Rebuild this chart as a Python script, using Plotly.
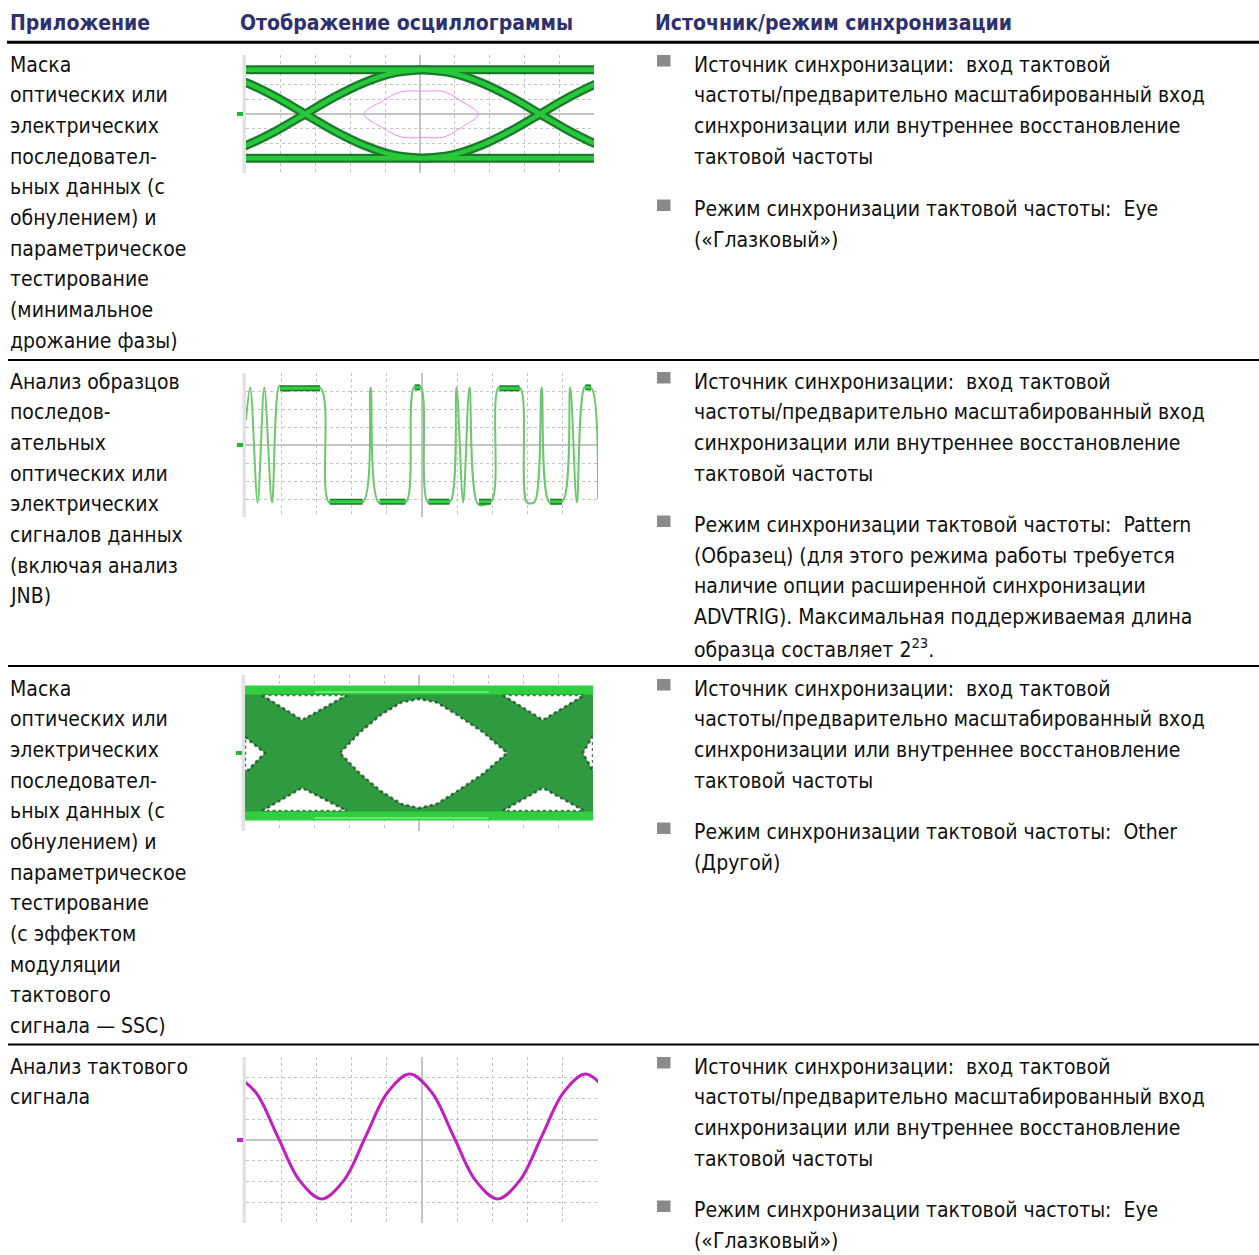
import plotly.graph_objects as go

W, H = 1259, 1255
FONT = "Liberation Sans Narrow, Arial Narrow, DejaVu Sans Condensed, sans-serif"
HEAD_COLOR = "#2e3070"

# ---------------- text data ----------------
headers = ["Приложение", "Отображение осциллограммы", "Источник/режим синхронизации"]

col1_rows = [
    ["Маска", "оптических или", "электрических", "последовател-", "ьных данных (с",
     "обнулением) и", "параметрическое", "тестирование", "(минимальное", "дрожание фазы)"],
    ["Анализ образцов", "последов-", "ательных", "оптических или", "электрических",
     "сигналов данных", "(включая анализ", "JNB)"],
    ["Маска", "оптических или", "электрических", "последовател-", "ьных данных (с",
     "обнулением) и", "параметрическое", "тестирование", "(с эффектом", "модуляции",
     "тактового", "сигнала — SSC)"],
    ["Анализ тактового", "сигнала"],
]

src_bullet = ["Источник синхронизации:\u00a0 вход тактовой",
              "частоты/предварительно масштабированный вход",
              "синхронизации или внутреннее восстановление",
              "тактовой частоты"]
col3_rows = [
    [src_bullet, ["Режим синхронизации тактовой частоты:\u00a0 Eye", "(«Глазковый»)"]],
    [src_bullet, ["Режим синхронизации тактовой частоты:\u00a0 Pattern",
                  "(Образец) (для этого режима работы требуется",
                  "наличие опции расширенной синхронизации",
                  "ADVTRIG). Максимальная поддерживаемая длина",
                  "образца составляет 2<sup>23</sup>."]],
    [src_bullet, ["Режим синхронизации тактовой частоты:\u00a0 Other", "(Другой)"]],
    [src_bullet, ["Режим синхронизации тактовой частоты:\u00a0 Eye", "(«Глазковый»)"]],
]

# ---------------- waveform data (divisions) ----------------
# Eye 1: rails and one transition shape relative to crossing
eye1_rail = 3.0
eye1_cross = [1.70, 8.45]
eye1_t = [-3.37, -2.53, -1.69, -0.84, 0.0, 0.84, 1.69, 2.53, 3.37]
eye1_y = [-3.0, -2.78, -2.12, -1.15, 0.0, 1.15, 2.12, 2.78, 3.0]
mask_x = [3.39, 3.9, 4.45, 5.1, 5.7, 6.2, 6.67, 6.2, 5.7, 5.1, 4.45, 3.9, 3.39]
mask_y = [0.0, 0.85, 1.5, 1.55, 1.5, 0.85, 0.0, -0.9, -1.55, -1.6, -1.55, -0.9, 0.0]

# Pattern waveform
pat_t = [0.00, 0.12, 0.33, 0.52, 0.74, 0.95, 1.10, 1.50, 2.12, 2.36, 2.80, 3.33, 3.54, 3.77,
         4.20, 4.55, 4.77, 4.97, 5.17, 5.50, 5.80, 5.98, 6.17, 6.35, 6.60, 6.98, 7.18, 7.50,
         7.79, 7.98, 8.20, 8.40, 8.62, 9.00, 9.21, 9.40, 9.63, 9.82, 10.0]
pat_v = [1.4, 3.2, -3.2, 3.2, -3.2, 3.3, 3.0, 3.15, 3.15, -3.2, -3.1, -3.15, 3.2, -3.2,
         -3.1, -3.15, 3.2, 3.2, -3.2, -3.1, -3.15, 3.2, -3.2, 3.2, -3.3, -3.1, 3.2, 3.1,
         3.15, -3.2, -3.15, 3.2, -3.2, -3.1, 3.2, -3.2, 3.25, 3.15, -3.0]
plat_x0 = [0.97, 2.38, 3.80, 4.79, 5.19, 6.62, 7.20, 8.64, 9.64]
plat_x1 = [2.10, 3.31, 4.53, 4.95, 5.78, 6.96, 7.77, 8.98, 9.80]
plat_v = [3.15, -3.15, -3.15, 3.2, -3.15, -3.15, 3.15, -3.15, 3.2]

# Eye 3 (dense eye): rails and white openings
eye3_rail = 3.23
holes = [
    ([2.73, 3.3, 3.9, 4.5, 5.0, 5.5, 6.1, 6.85, 7.53, 6.85, 6.1, 5.5, 5.0, 4.5, 3.9, 3.3, 2.73],
     [0.0, 1.05, 1.95, 2.6, 2.77, 2.6, 1.95, 1.05, 0.0, -1.05, -1.95, -2.62, -2.82, -2.62, -1.95, -1.05, 0.0]),
    ([0.49, 1.64, 2.93, 0.49], [2.97, 1.69, 2.97, 2.97]),
    ([0.49, 1.64, 2.93, 0.49], [-2.97, -1.79, -2.97, -2.97]),
    ([7.41, 8.56, 9.75, 7.41], [2.97, 1.69, 2.97, 2.97]),
    ([7.41, 8.56, 9.75, 7.41], [-2.97, -1.79, -2.97, -2.97]),
    ([0.0, 0.57, 0.0, 0.0], [0.82, 0.0, -1.03, 0.82]),
    ([10.0, 9.71, 10.0, 10.0], [0.9, 0.0, -0.9, 0.9]),
]

# Clock sine (points read every 1/8 period)
sin_t = [-0.35, 0.275, 0.90, 1.525, 2.15, 2.775, 3.40, 4.025, 4.65, 5.275, 5.90, 6.525,
         7.15, 7.775, 8.40, 9.025, 9.65, 10.275]
sin_v = [3.18, 2.30, 0.17, -1.96, -2.84, -1.96, 0.17, 2.30, 3.18, 2.30, 0.17, -1.96,
         -2.84, -1.96, 0.17, 2.30, 3.18, 2.30]

# ---------------- helpers ----------------
def px(x):
    return x / W


def py(y):
    return 1 - y / H


fig = go.Figure()
annotations = []
shapes = []

# headers
for txt, x in zip(headers, [8, 238, 653]):
    annotations.append(dict(text="<b>" + txt + "</b>", x=px(x), y=py(23), xref="paper", yref="paper",
                            xanchor="left", yanchor="middle", showarrow=False,
                            font=dict(family=FONT, size=21, color=HEAD_COLOR)))

# rules
shapes.append(dict(type="line", xref="paper", yref="paper", x0=px(7), x1=1, y0=py(42.2), y1=py(42.2),
                   line=dict(color="black", width=3)))
for yy in [360, 666, 1044.5]:
    shapes.append(dict(type="line", xref="paper", yref="paper", x0=px(8), x1=1, y0=py(yy), y1=py(yy),
                       line=dict(color="black", width=2.2)))

LS = 30.67
row_top = [64.5, 381.5, 688.5, 1066.5]
bullet_start = [[64.5, 209], [381.5, 525], [688.5, 832], [1066.5, 1210]]

for lines, y0 in zip(col1_rows, row_top):
    for i, ln in enumerate(lines):
        annotations.append(dict(text=ln, x=px(8), y=py(y0 + i * LS), xref="paper", yref="paper",
                                xanchor="left", yanchor="middle", showarrow=False,
                                font=dict(family=FONT, size=21, color="#111111")))

for bullets, starts in zip(col3_rows, bullet_start):
    for blines, y0 in zip(bullets, starts):
        shapes.append(dict(type="rect", xref="paper", yref="paper", x0=px(657), x1=px(670.5),
                           y0=py(y0 - 9.5), y1=py(y0 + 2), line=dict(width=0), fillcolor="#8a8a8a"))
        for i, ln in enumerate(blines):
            annotations.append(dict(text=ln, x=px(692), y=py(y0 + i * LS), xref="paper", yref="paper",
                                    xanchor="left", yanchor="middle", showarrow=False,
                                    font=dict(family=FONT, size=21, color="#111111")))

# ---------------- scope panels ----------------
panels = [  # x0, x1, y0(top), y1(bottom), marker color
    (246, 594, 55, 173, "#22b830"),
    (246, 598, 373, 517, "#22b830"),
    (245, 593, 675, 831, "#22b830"),
    (246, 598, 1057, 1223, "#cc22cc"),
]

layout_axes = {}
for k, (x0, x1, y0, y1, mc) in enumerate(panels, start=1):
    xa = "xaxis" if k == 1 else f"xaxis{k}"
    ya = "yaxis" if k == 1 else f"yaxis{k}"
    layout_axes[xa] = dict(domain=[px(x0), px(x1)], range=[0, 10], dtick=1, tick0=0,
                           showgrid=True, gridcolor="#c4c4c4", griddash="dot", gridwidth=1,
                           zeroline=False, showticklabels=False, ticks="", showline=False,
                           anchor=f"y{k}" if k > 1 else "y", fixedrange=True)
    layout_axes[ya] = dict(domain=[py(y1), py(y0)], range=[-4, 4], dtick=1, tick0=0,
                           showgrid=True, gridcolor="#c4c4c4", griddash="dot", gridwidth=1,
                           zeroline=False, showticklabels=False, ticks="", showline=False,
                           anchor=f"x{k}" if k > 1 else "x", fixedrange=True)
    xr = "x" if k == 1 else f"x{k}"
    yr = "y" if k == 1 else f"y{k}"
    # center cross
    shapes.append(dict(type="line", xref=xr, yref=yr, x0=5, x1=5, y0=-4, y1=4,
                       line=dict(color="#8a8a8a", width=1), layer="below"))
    shapes.append(dict(type="line", xref=xr, yref=yr, x0=0, x1=10, y0=0, y1=0,
                       line=dict(color="#8a8a8a", width=1), layer="below"))
    # left grey bar
    shapes.append(dict(type="rect", xref="paper", yref="paper", x0=px(x0 - 3.5), x1=px(x0),
                       y0=py(y1), y1=py(y0), line=dict(width=0), fillcolor="#e2e2e2"))
    # ground marker
    ym = (y0 + y1) / 2
    shapes.append(dict(type="rect", xref="paper", yref="paper", x0=px(x0 - 9), x1=px(x0 - 3),
                       y0=py(ym + 2), y1=py(ym - 2), line=dict(width=0), fillcolor=mc))


def add(tr):
    fig.add_trace(tr)


def line_tr(x, y, color, width, ax, shape="spline", smoothing=0.9):
    return go.Scatter(x=x, y=y, mode="lines", line=dict(color=color, width=width, shape=shape,
                                                        smoothing=smoothing if shape == "spline" else None),
                      xaxis=ax[0], yaxis=ax[1], hoverinfo="skip", showlegend=False)


# Panel 1: eye diagram
ax1 = ("x", "y")
paths = []
for c in eye1_cross:
    xs = [c + t for t in eye1_t]
    paths.append((xs, eye1_y))
    paths.append((xs, [-v for v in eye1_y]))
rails1 = [([0, 10], [eye1_rail, eye1_rail]), ([0, 10], [-eye1_rail, -eye1_rail])]
for xs, ys in paths + rails1:
    add(line_tr(xs, ys, "#1a7a2a", 9, ax1))
for xs, ys in paths + rails1:
    add(line_tr(xs, ys, "#27c93a", 4.5, ax1))
add(go.Scatter(x=mask_x, y=mask_y, mode="lines", line=dict(color="#f08cf0", width=1, shape="spline"),
               xaxis="x", yaxis="y", hoverinfo="skip", showlegend=False))

# Panel 2: pattern
ax2 = ("x2", "y2")
add(line_tr(pat_t, pat_v, "#6cc86c", 2, ax2))
for a, b, v in zip(plat_x0, plat_x1, plat_v):
    add(line_tr([a, b], [v, v], "#1f7a2a", 6, ax2, shape="linear"))
    add(line_tr([a, b], [v, v], "#2fd23f", 3, ax2, shape="linear"))

# Panel 3: dense eye
ax3 = ("x3", "y3")
add(go.Scatter(x=[0, 10, 10, 0, 0], y=[eye3_rail, eye3_rail, -eye3_rail, -eye3_rail, eye3_rail],
               mode="lines", fill="toself", fillcolor="#2f9a40", line=dict(width=0),
               xaxis="x3", yaxis="y3", hoverinfo="skip", showlegend=False))
for hx, hy in holes:
    add(go.Scatter(x=hx, y=hy, mode="lines", fill="toself", fillcolor="white",
                   line=dict(color="rgba(25,70,30,0.75)", width=2.5, dash="dot"),
                   xaxis="x3", yaxis="y3", hoverinfo="skip", showlegend=False))
for v in [eye3_rail, -eye3_rail]:
    add(line_tr([0, 10], [v, v], "#2fcf3f", 9, ax3, shape="linear"))
    add(line_tr([2, 7], [v - 0.1, v - 0.1], "#5fee6a", 2, ax3, shape="linear"))

# Panel 4: sine
ax4 = ("x4", "y4")
add(line_tr(sin_t, sin_v, "#c020c0", 3, ax4, smoothing=1.0))

fig.update_layout(width=W, height=H, margin=dict(l=0, r=0, t=0, b=0),
                  paper_bgcolor="white", plot_bgcolor="white",
                  annotations=annotations, shapes=shapes, showlegend=False, **layout_axes)

fig.write_html("out.html", config={"displayModeBar": False},
               post_script="document.body.style.margin='0px';document.body.style.overflow='hidden';")
